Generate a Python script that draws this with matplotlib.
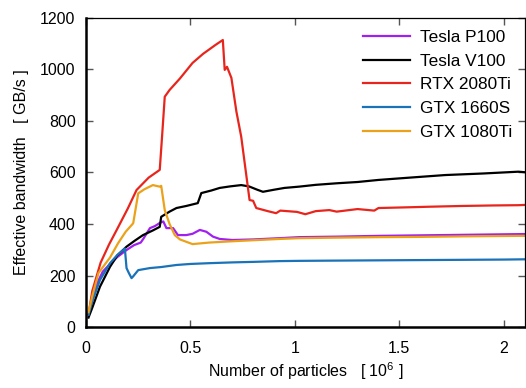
import matplotlib
matplotlib.use("Agg")
import matplotlib.pyplot as plt

plt.rcParams['font.family'] = ['Liberation Sans', 'DejaVu Sans']
plt.rcParams['mathtext.fontset'] = 'custom'
plt.rcParams['mathtext.rm'] = 'Liberation Sans'
plt.rcParams['mathtext.it'] = 'Liberation Sans'

# Tesla P100
x_p100 = [0.012, 0.03, 0.05, 0.08, 0.115, 0.15, 0.194, 0.23, 0.262, 0.274, 0.306, 0.33, 0.353,
          0.37, 0.385, 0.417, 0.44, 0.48, 0.51, 0.545, 0.576, 0.608, 0.64, 0.70,
          0.8, 0.926, 1.02, 1.2, 1.4, 1.6, 1.8, 2.0, 2.1]
y_p100 = [45, 100, 165, 215, 245, 272, 299, 318, 328, 342, 384, 392, 404,
          410, 384, 384, 357, 357, 362, 377, 370, 351, 342, 338,
          340, 345, 349, 351, 354, 356, 358, 360, 361]

# Tesla V100
x_v100 = [0.012, 0.03, 0.067, 0.115, 0.15, 0.194, 0.233, 0.273, 0.32, 0.353, 0.36, 0.4,
          0.433, 0.48, 0.535, 0.552, 0.6, 0.64, 0.69, 0.743, 0.78, 0.82, 0.847, 0.9,
          0.95, 1.02, 1.1, 1.2, 1.3, 1.4, 1.55, 1.72, 1.9, 2.07, 2.1]
y_v100 = [37, 75, 157, 234, 278, 312, 335, 357, 375, 389, 428, 448,
          462, 470, 481, 520, 530, 540, 546, 551, 546, 533, 525, 533,
          540, 545, 552, 558, 563, 571, 580, 590, 596, 603, 601]

# RTX 2080Ti
x_rtx = [0.012, 0.03, 0.07, 0.11, 0.147, 0.2, 0.242, 0.3, 0.353, 0.365, 0.377, 0.40,
         0.45, 0.51, 0.56, 0.62, 0.655, 0.664, 0.675, 0.696, 0.72, 0.743, 0.783,
         0.80, 0.815, 0.87, 0.91, 0.93, 1.01, 1.05, 1.1, 1.165, 1.2, 1.3, 1.38,
         1.40, 1.55, 1.64, 1.8, 1.95, 2.07, 2.1]
y_rtx = [50, 140, 250, 320, 377, 460, 532, 580, 610, 750, 894, 920,
         965, 1025, 1060, 1095, 1114, 998, 1010, 967, 836, 739, 493,
         490, 462, 450, 442, 452, 447, 438, 450, 454, 448, 458, 452,
         462, 465, 467, 470, 472, 473, 474]

# GTX 1660S
x_1660 = [0.012, 0.03, 0.067, 0.115, 0.15, 0.178, 0.186, 0.194, 0.205, 0.218, 0.225,
          0.25, 0.306, 0.36, 0.433, 0.5, 0.59, 0.7, 0.8, 0.926, 1.02, 1.2, 1.4,
          1.6, 1.8, 2.0, 2.1]
y_1660 = [48, 100, 183, 248, 280, 299, 305, 229, 210, 190, 196,
          221, 229, 233, 241, 245, 248, 251, 253, 256, 257, 258, 259,
          260, 261, 262, 263]

# GTX 1080Ti
x_1080 = [0.012, 0.03, 0.06, 0.115, 0.154, 0.19, 0.226, 0.25, 0.28, 0.32, 0.353, 0.36,
          0.377, 0.4, 0.425, 0.45, 0.48, 0.51, 0.55, 0.59, 0.7, 0.8, 0.926, 1.02,
          1.2, 1.4, 1.6, 1.8, 2.07, 2.1]
y_1080 = [58, 120, 210, 270, 326, 370, 403, 519, 535, 551, 545, 548,
          454, 400, 357, 340, 331, 322, 325, 328, 333, 337, 342, 345,
          347, 349, 350, 352, 354, 354]

labels = ["Tesla P100", "Tesla V100", "RTX 2080Ti", "GTX 1660S", "GTX 1080Ti"]
colors = ["#a020f0", "#000000", "#e8251c", "#1a72b8", "#eba21a"]

fig = plt.figure(figsize=(5.26, 3.88), dpi=100)
ax = fig.add_axes([0.1635, 0.157, 0.834, 0.797])

series = [(x_p100, y_p100), (x_v100, y_v100), (x_rtx, y_rtx), (x_1660, y_1660), (x_1080, y_1080)]
for (xs, ys), lab, c in zip(series, labels, colors):
    ax.plot(xs, ys, "-", color=c, lw=1.6, label=lab)

ax.set_xlim(0, 2.1)
ax.set_ylim(0, 1200)
ax.set_xticks([0, 0.5, 1, 1.5, 2])
ax.set_xticklabels(["0", "0.5", "1", "1.5", "2"])
ax.set_yticks([0, 200, 400, 600, 800, 1000, 1200])
ax.tick_params(direction="in", length=5, width=1, top=True, right=True,
               labelsize=11.5, color="#555555")
ax.tick_params(axis="x", pad=10)
ax.tick_params(axis="y", pad=7.5)
for side in ["left", "bottom"]:
    ax.spines[side].set_linewidth(1.8)
for side in ["top", "right"]:
    ax.spines[side].set_linewidth(0.9)

ax.set_xlabel("Number of particles   [ 10$^6$ ]", fontsize=11.5, labelpad=3)
ax.set_ylabel("Effective bandwidth   [ GB/s ]", fontsize=11.5, labelpad=8)
ax.legend(loc="upper right", frameon=False, fontsize=12.4, handlelength=2.75,
          handletextpad=0.6, labelspacing=0.5, borderaxespad=0.3)

fig.savefig("out.png", dpi=100)
